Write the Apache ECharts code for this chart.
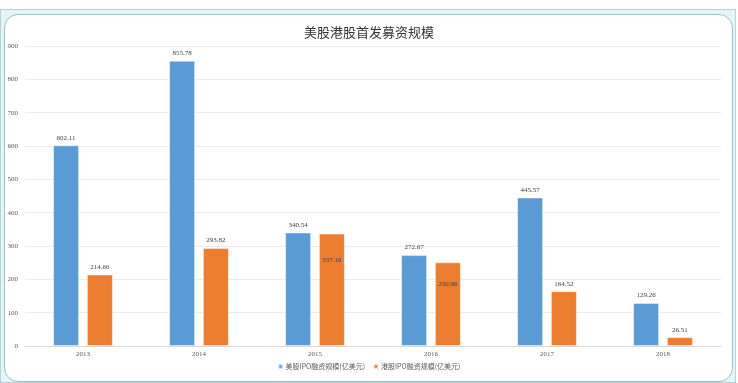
<!DOCTYPE html>
<html><head><meta charset="utf-8">
<script src="https://cdn.jsdelivr.net/npm/echarts@6/dist/echarts.min.js"></script>
<style>
html,body{margin:0;padding:0;width:738px;height:383px;overflow:hidden;background:#fff;}
#outer{position:absolute;left:0;top:9px;width:736px;height:374px;background:#e4f7f8;border:1px solid #b7d3d6;box-sizing:border-box;}
#inner{position:absolute;left:4px;top:14px;width:729px;height:368px;background:#fff;border:1px solid #a4bfc3;border-radius:14px;box-sizing:border-box;}
#chart{position:absolute;left:0;top:0;width:738px;height:383px;}
</style></head>
<body>
<div id="outer"></div><div id="inner"></div>
<div id="chart"></div>
<script>
const categories = ['2013','2014','2015','2016','2017','2018'];
const usIPO = [602.11, 855.78, 340.54, 272.67, 445.57, 129.26];
const hkIPO = [214.66, 293.82, 337.16, 250.96, 164.52, 26.51];
const seriesNames = ['美股IPO融资规模(亿美元)', '港股IPO融资规模(亿美元)'];
const titleText = '美股港股首发募资规模';

const chart = echarts.init(document.getElementById('chart'), null, {renderer:'canvas'});
const numFont = 'Liberation Serif';
const hkData = hkIPO.map((v, i) => {
  if (i === 2) return {value: v, label: {position: ['50%', 27], align: 'center', verticalAlign: 'middle'}};
  if (i === 3) return {value: v, label: {position: ['50%', 22], align: 'center', verticalAlign: 'middle'}};
  return v;
});
chart.setOption({
  backgroundColor: 'transparent',
  animation: false,
  title: {text: titleText, left: 'center', top: 21,
    textStyle: {fontFamily: 'Noto Sans CJK SC', fontSize: 13, fontWeight: 'normal', color: '#333'}},
  legend: {bottom: 8, left: 'center', itemWidth: 4, itemHeight: 4, itemGap: 8, icon: 'rect',
    textStyle: {fontFamily: 'Noto Sans CJK SC', fontSize: 7, color: '#595959', padding: [0,0,0,-2]}},
  grid: {left: 25, right: 17, top: 46, bottom: 37},
  xAxis: {type: 'category', data: categories,
    axisLine: {lineStyle: {color: '#d9d9d9'}}, axisTick: {show: false},
    axisLabel: {fontFamily: numFont, fontSize: 7, color: '#595959', margin: 5}},
  yAxis: {type: 'value', min: 0, max: 900, interval: 100,
    axisLine: {show: false}, axisTick: {show: false},
    splitLine: {lineStyle: {color: '#ececec'}},
    axisLabel: {fontFamily: numFont, fontSize: 7, color: '#595959', margin: 7}},
  series: [
    {name: seriesNames[0], type: 'bar', data: usIPO, barWidth: 26, barGap: '30%',
     itemStyle: {color: '#5b9bd5', borderColor: 'rgba(255,255,255,0.45)', borderWidth: 1},
     label: {show: true, position: 'top', distance: 4, fontFamily: numFont, fontSize: 7, color: '#404040'}},
    {name: seriesNames[1], type: 'bar', data: hkData, barWidth: 26,
     itemStyle: {color: '#ed7d31', borderColor: 'rgba(255,255,255,0.45)', borderWidth: 1},
     label: {show: true, position: 'top', distance: 4, fontFamily: numFont, fontSize: 7, color: '#404040'}}
  ]
});
</script>
</body></html>
